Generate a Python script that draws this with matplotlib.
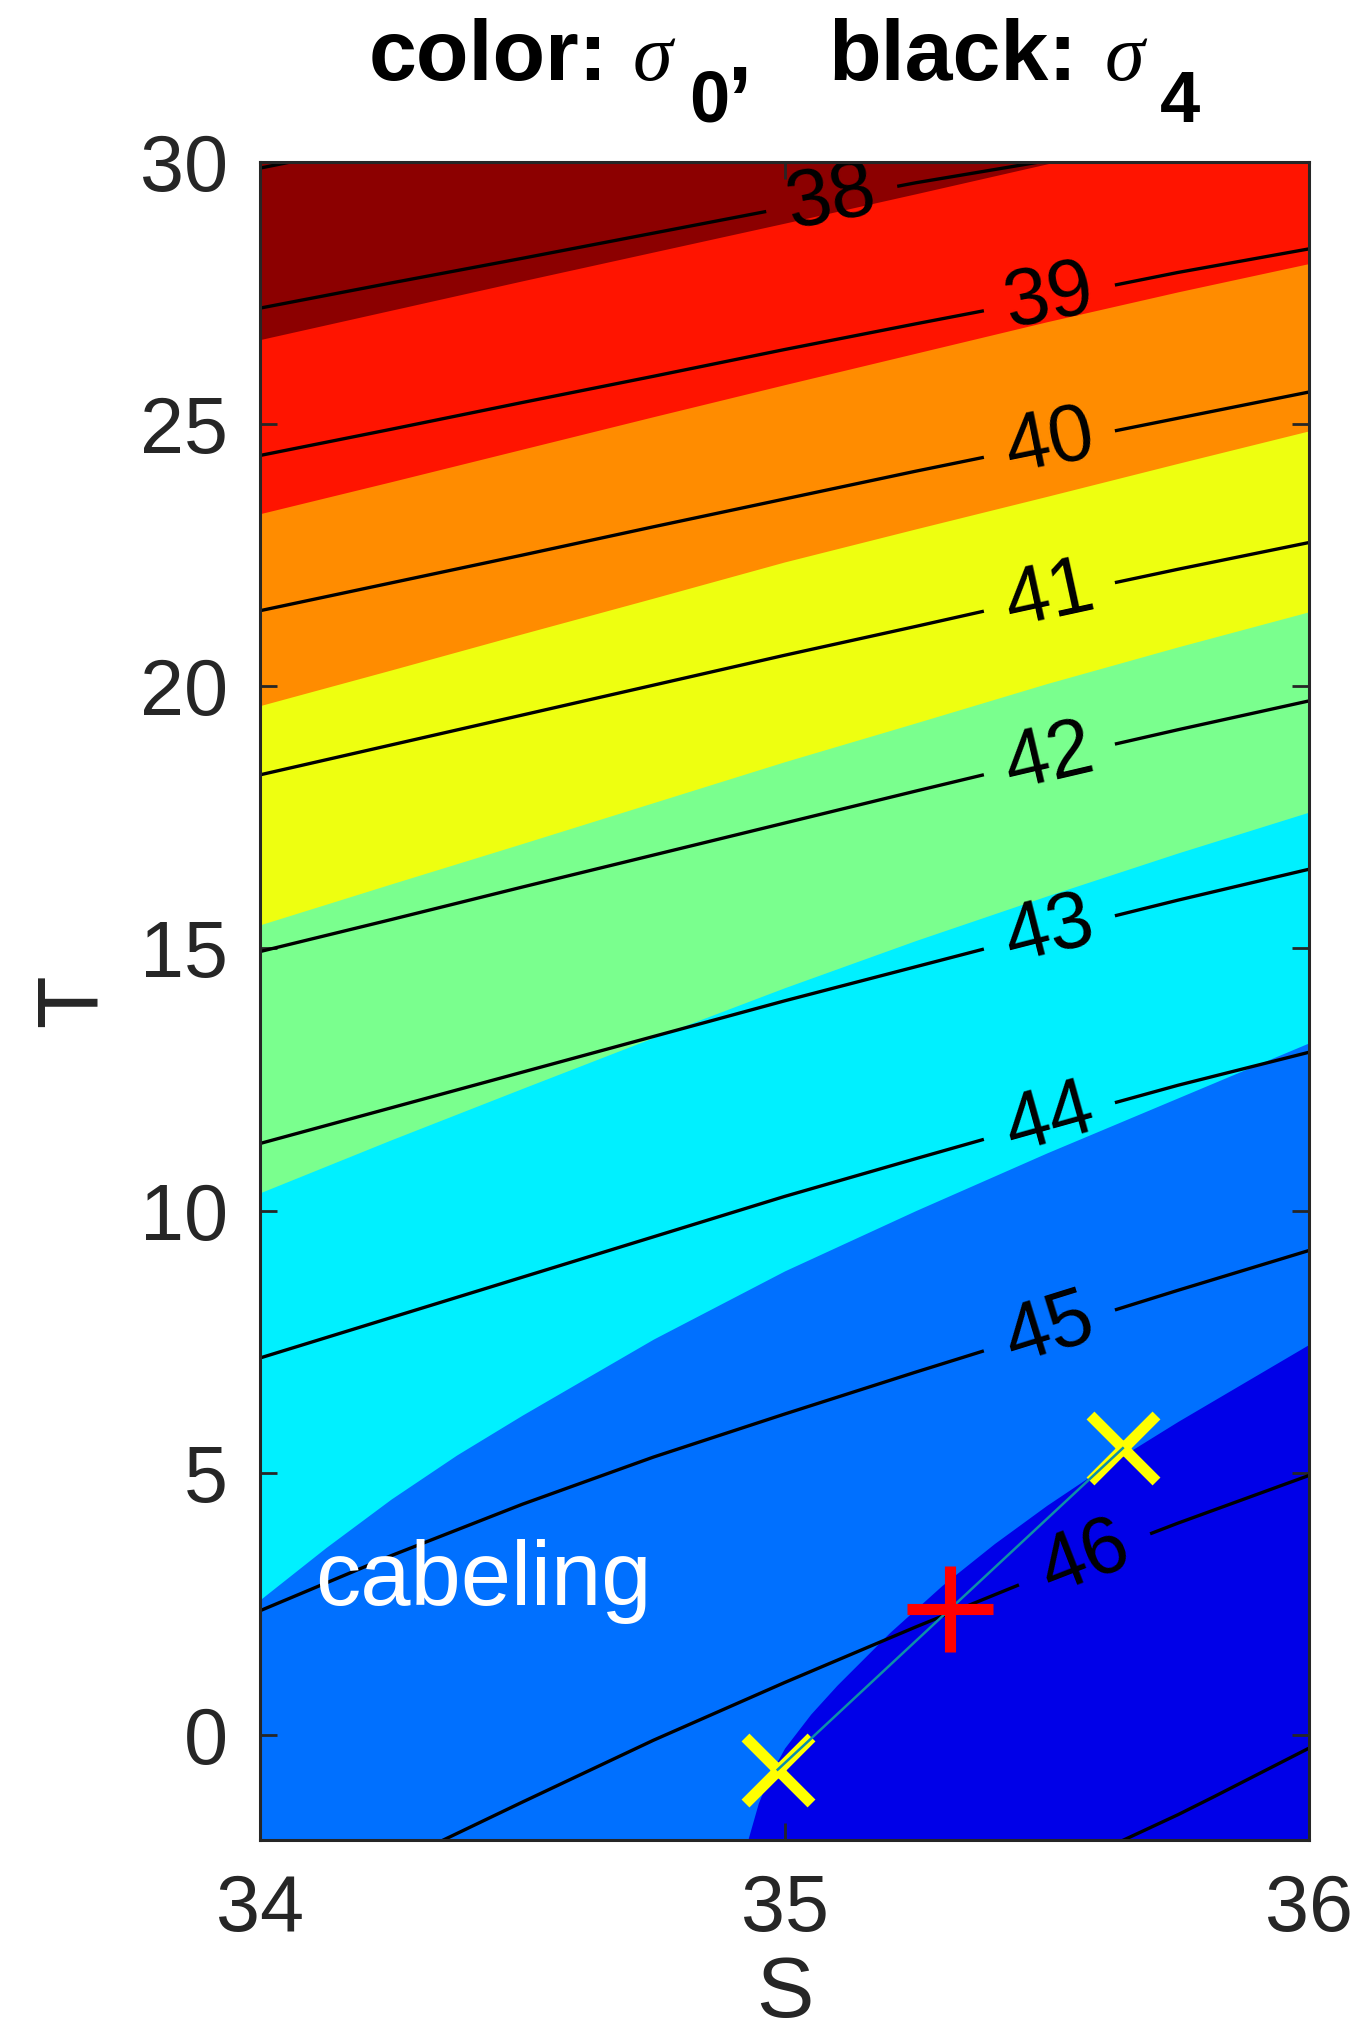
import numpy as np
import matplotlib
matplotlib.use('Agg')
import matplotlib.pyplot as plt

plt.rcParams['font.family'] = ['Liberation Sans', 'DejaVu Sans']

# sigma0 colour bands, light water (top) to dense water (bottom right)
BAND_COLORS = ['#8C0000', '#FF1400', '#FF8C00', '#EEFF10', '#7AFF8E', '#00F0FF', '#0070FF', '#0000E8']

S_GRID = [34.0, 34.25, 34.5, 34.75, 35.0, 35.25, 35.5, 35.75, 36.0]
EDGE_1 = [26.61, 27.17, 27.73, 28.28, 28.83, 29.39, 29.96, 30.5, 31.05]
EDGE_2 = [23.29, 23.9, 24.52, 25.14, 25.75, 26.35, 26.95, 27.52, 28.06]
EDGE_3 = [19.63, 20.31, 21.0, 21.68, 22.37, 23.0, 23.62, 24.25, 24.87]
EDGE_4 = [15.45, 16.23, 17.0, 17.78, 18.56, 19.3, 20.05, 20.75, 21.42]
EDGE_5 = [10.34, 11.35, 12.33, 13.3, 14.25, 15.15, 16.0, 16.82, 17.6]
EDGE_6_S = [34.0, 34.125, 34.25, 34.375, 34.5, 34.75, 35.0, 35.25, 35.5, 35.75, 36.0]
EDGE_6 = [2.58, 3.57, 4.5, 5.34, 6.1, 7.55, 8.85, 10.0, 11.1, 12.15, 13.2]
EDGE_7_S = [34.93, 34.95, 34.97, 35.0, 35.05, 35.1, 35.2, 35.3, 35.4, 35.5, 35.6, 35.75, 36.0]
EDGE_7 = [-2.0, -1.3, -0.8, -0.25, 0.4, 0.95, 1.95, 2.85, 3.65, 4.38, 5.05, 5.98, 7.45]

# sigma4 contours (black), T at S_GRID
SIG4_38 = [27.21, 27.69, 28.16, 28.64, 29.12, 29.6, 30.02, 30.5, 30.95]
SIG4_39 = [24.40, 24.90, 25.41, 25.91, 26.42, 26.91, 27.39, 27.89, 28.34]
SIG4_40 = [21.44, 21.97, 22.50, 23.04, 23.57, 24.10, 24.61, 25.11, 25.61]
SIG4_41 = [18.31, 18.88, 19.45, 20.02, 20.59, 21.14, 21.70, 22.23, 22.74]
SIG4_42 = [14.94, 15.55, 16.17, 16.78, 17.39, 18.0, 18.6, 19.17, 19.72]
SIG4_43 = [11.28, 11.96, 12.64, 13.32, 14.0, 14.65, 15.3, 15.92, 16.51]
SIG4_44 = [7.19, 7.96, 8.73, 9.50, 10.27, 10.99, 11.70, 12.39, 13.02]
SIG4_45 = [2.37, 3.42, 4.40, 5.30, 6.12, 6.92, 7.70, 8.48, 9.24]
SIG4_37_S = [34.0, 34.1]
SIG4_37 = [29.88, 30.08]
SIG4_46_S = [34.35, 34.5, 34.75, 35.0, 35.25, 35.5, 35.75, 36.0]
SIG4_46 = [-2.0, -1.28, -0.10, 1.00, 2.06, 3.08, 4.04, 4.95]
SIG4_47_S = [35.647, 35.75, 35.82, 36.0]
SIG4_47 = [-2.0, -1.52, -1.17, -0.25]

LABEL_LEVELS = [38, 39, 40, 41, 42, 43, 44, 45, 46]
LABEL_S = [35.09, 35.505, 35.505, 35.505, 35.505, 35.505, 35.505, 35.505, 35.572]

# the two water masses and their mixture
WATER_S = [34.987, 35.645]
WATER_T = [-0.66, 5.47]
MIX_S = [35.316]
MIX_T = [2.40]


fig = plt.figure(figsize=(13.62, 20.38), dpi=100)
ax = fig.add_axes([0.1909, 0.0972, 0.7702, 0.8234])
ax.set_xlim(34, 36)
ax.set_ylim(-2, 30)
ax.set_facecolor(BAND_COLORS[0])

# layered fills: each band covers everything below its upper edge
edges = [(S_GRID, EDGE_1), (S_GRID, EDGE_2), (S_GRID, EDGE_3), (S_GRID, EDGE_4),
         (S_GRID, EDGE_5), (EDGE_6_S, EDGE_6), (EDGE_7_S, EDGE_7)]
for (s, t), c in zip(edges, BAND_COLORS[1:]):
    ax.fill_between(s, t, -2, color=c, linewidth=0, zorder=1)

lines = {37: (SIG4_37_S, SIG4_37), 38: (S_GRID, SIG4_38), 39: (S_GRID, SIG4_39),
         40: (S_GRID, SIG4_40), 41: (S_GRID, SIG4_41), 42: (S_GRID, SIG4_42),
         43: (S_GRID, SIG4_43), 44: (S_GRID, SIG4_44), 45: (S_GRID, SIG4_45),
         46: (SIG4_46_S, SIG4_46), 47: (SIG4_47_S, SIG4_47)}
label_at = dict(zip(LABEL_LEVELS, LABEL_S))
gap = 0.128
lw = 2.4

for lev, (s, t) in lines.items():
    s = np.asarray(s)
    t = np.asarray(t)
    if lev not in label_at:
        ax.plot(s, t, color='black', lw=lw, zorder=3)
        continue
    s0 = label_at[lev]
    lo, hi = s0 - gap, s0 + gap
    left = s < lo
    right = s > hi
    ax.plot(np.append(s[left], lo), np.append(t[left], np.interp(lo, s, t)),
            color='black', lw=lw, zorder=3)
    ax.plot(np.insert(s[right], 0, hi), np.insert(t[right], 0, np.interp(hi, s, t)),
            color='black', lw=lw, zorder=3)
    p1 = ax.transData.transform((lo, np.interp(lo, s, t)))
    p2 = ax.transData.transform((hi, np.interp(hi, s, t)))
    ang = np.degrees(np.arctan2(p2[1] - p1[1], p2[0] - p1[0]))
    ax.text(s0, np.interp(s0, s, t), str(lev), fontsize=58, rotation=ang,
            rotation_mode='anchor', ha='center', va='center', zorder=4, clip_on=True)

ax.text(34.105, 2.48, 'cabeling', color='white', fontsize=65, ha='left', va='baseline', zorder=5)

ax.plot(WATER_S, WATER_T, 'x', color='yellow', ms=48, mew=8, zorder=6)
ax.plot(WATER_S, WATER_T, color='#0E8FA8', lw=1.8, zorder=7)
ax.plot(MIX_S, MIX_T, '+', color='red', ms=62, mew=8, zorder=8)

ax.set_xticks([34, 35, 36])
ax.set_yticks([0, 5, 10, 15, 20, 25, 30])
ax.tick_params(direction='in', top=True, right=True, length=12, width=2,
               labelsize=57, colors='#262626', labelcolor='#262626')
ax.tick_params(axis='x', pad=24)
ax.tick_params(axis='y', pad=23)
for sp in ax.spines.values():
    sp.set_linewidth(2.2)
    sp.set_color('#262626')
    sp.set_zorder(10)

ax.set_xlabel('S', fontsize=62, color='#262626', labelpad=5)
ax.set_ylabel('T', fontsize=62, color='#262626', labelpad=19)

# title assembled from pieces: bold words, italic sigma, big lowered subscripts
tf = dict(fontsize=62, fontweight='bold', color='black')
sf = dict(fontsize=58, family='Liberation Serif', style='italic', color='black')
fig.text(0.2709, 0.9607, 'color:', **tf)
fig.text(0.4648, 0.9607, '\u03c3', **sf)
fig.text(0.5059, 0.9403, '0', fontsize=52, fontweight='bold')
fig.text(0.5338, 0.9607, ',', **tf)
fig.text(0.6079, 0.9607, 'black:', **tf)
fig.text(0.8113, 0.9607, '\u03c3', **sf)
fig.text(0.8517, 0.9403, '4', fontsize=52, fontweight='bold')

fig.savefig('out.png', dpi=100)
